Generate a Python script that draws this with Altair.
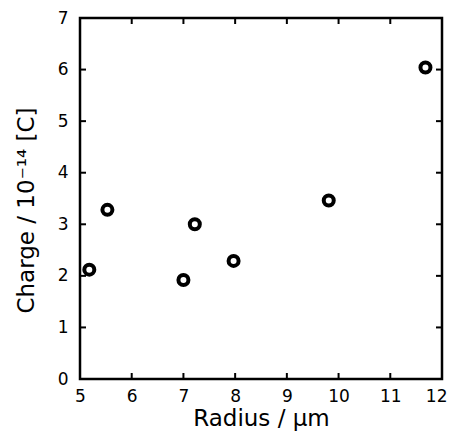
import altair as alt
import pandas as pd

radius = [5.18, 5.53, 7.0, 7.22, 7.97, 9.81, 11.68]
charge = [2.12, 3.28, 1.92, 3.0, 2.29, 3.46, 6.04]
x_ticks = [5, 6, 7, 8, 9, 10, 11, 12]
y_ticks = [0, 1, 2, 3, 4, 5, 6, 7]

df = pd.DataFrame({"radius": radius, "charge": charge})
xt = pd.DataFrame({"v": x_ticks[1:-1]})
yt = pd.DataFrame({"v": y_ticks[1:-1]})

W, H = 362, 361
FONT = "DejaVu Sans"

xs = alt.Scale(domain=[5, 12], nice=False)
ys = alt.Scale(domain=[0, 7], nice=False)

xax = alt.Axis(values=x_ticks, ticks=False, domain=False, grid=False, format="d",
               labelFontSize=17, titleFontSize=23, labelPadding=9,
               titlePadding=3, labelColor="black", titleColor="black",
               labelFont=FONT, titleFont=FONT, titleFontWeight="normal",
               labelFlush=False,
               labelAlign={"condition": {"test": "datum.value == 12", "value": "right"},
                           "value": "center"},
               labelOffset={"condition": {"test": "datum.value == 12", "value": 5},
                            "value": 0})
yax = alt.Axis(values=y_ticks, ticks=False, domain=False, grid=False, format="d",
               labelFontSize=17, titleFontSize=23, labelPadding=12,
               titlePadding=19, labelColor="black", titleColor="black",
               labelFont=FONT, titleFont=FONT, titleFontWeight="normal",
               titleY=192, labelFlush=False)
XT = "Radius / μm"
YT = "Charge / 10⁻¹⁴ [C]"

points = alt.Chart(df).mark_point(
    shape="circle", filled=False, stroke="black", strokeWidth=4, size=100, opacity=1
).encode(
    x=alt.X("radius:Q", scale=xs, title=XT, axis=xax),
    y=alt.Y("charge:Q", scale=ys, title=YT, axis=yax),
)

tl = 6
bx = alt.Chart(xt).mark_rule(color="black", strokeWidth=2).encode(
    x=alt.X("v:Q", scale=xs, title=XT, axis=xax), y=alt.value(H), y2=alt.value(H - tl))
tx = alt.Chart(xt).mark_rule(color="black", strokeWidth=2).encode(
    x=alt.X("v:Q", scale=xs, title=XT, axis=xax), y=alt.value(0), y2=alt.value(tl))
ly = alt.Chart(yt).mark_rule(color="black", strokeWidth=2).encode(
    y=alt.Y("v:Q", scale=ys, title=YT, axis=yax), x=alt.value(0), x2=alt.value(tl))
ry = alt.Chart(yt).mark_rule(color="black", strokeWidth=2).encode(
    y=alt.Y("v:Q", scale=ys, title=YT, axis=yax), x=alt.value(W), x2=alt.value(W - tl))

chart = alt.layer(points, bx, tx, ly, ry).properties(
    width=W, height=H,
    autosize=alt.AutoSizeParams(type="none"),
    padding={"left": 72, "top": 10, "right": 5, "bottom": 52},
    background="white",
).configure_view(stroke="black", strokeWidth=2.5)

chart.save("out.html", embed_options={"renderer": "svg", "actions": False})
